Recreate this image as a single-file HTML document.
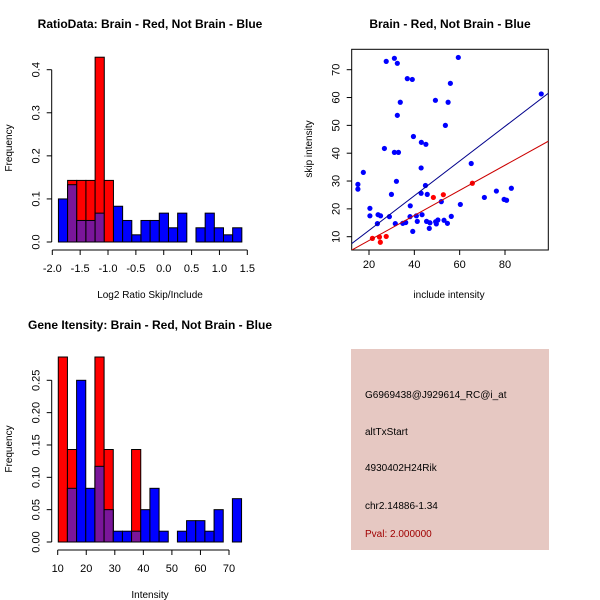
<!DOCTYPE html>
<html><head><meta charset="utf-8"><style>
html,body{margin:0;padding:0;background:#fff;}
svg{display:block;font-family:"Liberation Sans",Arial,sans-serif;}
</style></head><body>
<svg id="svg" width="600" height="600" viewBox="0 0 600 600" xmlns="http://www.w3.org/2000/svg"></svg>
<script>
// ===== Data =====
const ratioBinStart = -1.89;
const ratioBinWidth = 0.1646;
const ratioBlue = [0.1,0.133,0.05,0.05,0.067,0,0.083,0.05,0.0167,0.05,0.05,0.067,0.033,0.067,0,0.033,0.067,0.033,0.0167,0.033];
const ratioRed  = [0,0.143,0.143,0.143,0.429,0.143,0,0,0,0,0,0,0,0,0,0,0,0,0,0];
const ratioXTicks = [-2.0,-1.5,-1.0,-0.5,0.0,0.5,1.0,1.5];
const ratioXTickLabels = ["-2.0","-1.5","-1.0","-0.5","0.0","0.5","1.0","1.5"];
const ratioYTicks = [0,0.1,0.2,0.3,0.4];
const ratioYTickLabels = ["0.0","0.1","0.2","0.3","0.4"];
const blueX = [31.2,27.6,32.5,59.4,36.9,39.1,55.9,33.8,49.3,54.9,32.5,53.7,39.6,43.1,45.1,26.8,31.2,33,43,65.1,17.5,15.1,15.1,32.1,44.9,29.9,43,45.7,82.8,76.2,70.9,79.6,80.7,51.9,60.3,38.2,20.4,20.4,24,25.1,29,38.1,40.9,43.4,56.3,23.7,31.6,34.9,36.2,41.3,45.4,46.9,50.4,49.4,49.7,53.1,54.6,46.6,39.3,96];
const blueY = [74.1,73,72.3,74.4,66.8,66.5,65.1,58.3,59,58.3,53.6,50,46,43.9,43.2,41.7,40.3,40.3,34.7,36.3,33.1,28.8,27.1,29.9,28.4,25.2,25.6,25.2,27.4,26.4,24.1,23.4,23.1,22.6,21.6,21.1,20.2,17.5,17.9,17.5,17.2,17.2,17.5,17.9,17.3,14.7,14.7,14.8,15.1,15.5,15.5,15,16,15.4,14.6,15.9,14.8,13,11.9,61.3];
const redX = [21.5,24.6,25,27.6,48.4,52.8,65.6];
const redY = [9.4,9.9,8,10.1,24.1,25.1,29.2];
const blueFit = [0.623, -0.2];
const redFit = [0.451, -0.4];
const scatXTicks = [20,40,60,80];
const scatYTicks = [10,20,30,40,50,60,70];
const intBinStart = 10.2;
const intBinWidth = 3.21;
const intBlue = [0,0.083,0.25,0.083,0.117,0.05,0.0167,0.0167,0.0167,0.05,0.083,0.0167,0,0.0167,0.033,0.033,0.0167,0.05,0,0.067];
const intRed  = [0.286,0.143,0,0,0.286,0.143,0,0,0.143,0,0,0,0,0,0,0,0,0,0,0];
const intXTicks = [10,20,30,40,50,60,70];
const intYTicks = [0,0.05,0.1,0.15,0.2,0.25];
const intYTickLabels = ["0.00","0.05","0.10","0.15","0.20","0.25"];
const infoLines = ["G6969438@J929614_RC@i_at","altTxStart","4930402H24Rik","chr2.14886-1.34"];
const pvalText = "Pval: 2.000000";

const NS="http://www.w3.org/2000/svg";
const svg=document.getElementById('svg');
function mk(tag,attrs,parent){const e=document.createElementNS(NS,tag);for(const k in attrs)e.setAttribute(k,attrs[k]);(parent||svg).appendChild(e);return e;}
function txt(s,x,y,attrs,parent){const e=mk('text',Object.assign({x:x,y:y,'font-size':11,fill:'#000'},attrs||{}),parent);e.textContent=s;return e;}
function lin(d0,d1,r0,r1){return v=>r0+(v-d0)*(r1-r0)/(d1-d0);}

function histPanel(cfg){
  const g=mk('g',{});
  
  
  const X=cfg.X,Y=cfg.Y;
  const n=cfg.blue.length;
  for(let i=0;i<n;i++){
    const x0=X(cfg.start+i*cfg.width), x1=X(cfg.start+(i+1)*cfg.width);
    const b=cfg.blue[i], r=cfg.red[i];
    if(b>0){const e=mk('rect',{x:x0,y:Y(b),width:x1-x0,height:Y(0)-Y(b),fill:'#0000ff',stroke:'#000','stroke-width':1},g);
      
      }
    if(r>0){const e=mk('rect',{x:x0,y:Y(r),width:x1-x0,height:Y(0)-Y(r),fill:'#ff0000',stroke:'#000','stroke-width':1},g);
      
      }
    if(b>0&&r>0){const m=Math.min(b,r);const e=mk('rect',{x:x0,y:Y(m),width:x1-x0,height:Y(0)-Y(m),fill:'#7a169a',stroke:'#000','stroke-width':1},g);
      
      }
  }
  const yt=cfg.yTicks;
  mk('line',{x1:cfg.axX,x2:cfg.axX,y1:Y(yt[0]),y2:Y(yt[yt.length-1]),stroke:'#000'},g);
  yt.forEach((v,i)=>{mk('line',{x1:cfg.axX-5,x2:cfg.axX,y1:Y(v),y2:Y(v),stroke:'#000'},g);
    const t=txt(cfg.yLabels[i],0,0,{'text-anchor':'middle',transform:`translate(${cfg.axX-12},${Y(v)}) rotate(-90)`},g);
    
    });
  const xt=cfg.xTicks;
  mk('line',{x1:X(xt[0]),x2:X(xt[xt.length-1]),y1:cfg.axY,y2:cfg.axY,stroke:'#000'},g);
  xt.forEach((v,i)=>{mk('line',{x1:X(v),x2:X(v),y1:cfg.axY,y2:cfg.axY+5,stroke:'#000'},g);
    const t=txt(cfg.xLabels[i],X(v),cfg.axY+22,{'text-anchor':'middle'},g);
    
    });
  const tt=txt(cfg.title,cfg.titleX,cfg.titleY,{'text-anchor':'middle','font-weight':'bold','font-size':12},g);
  
  
  const xl=txt(cfg.xTitle,cfg.xTitleX,cfg.xTitleY,{'text-anchor':'middle','font-size':10},g);
  
  
  const yl=txt('Frequency',0,0,{'text-anchor':'middle','font-size':10,transform:`translate(12,${cfg.yTitleY}) rotate(-90)`},g);
  
  
}

histPanel({name:'ratio-histogram',X:lin(-2,1.5,52.3,247.3),Y:lin(0,0.4,242,69.7),start:ratioBinStart,width:ratioBinWidth,
  blue:ratioBlue,red:ratioRed,yTicks:ratioYTicks,yLabels:ratioYTickLabels,xTicks:ratioXTicks,xLabels:ratioXTickLabels,
  axX:51.7,axY:250,title:'RatioData: Brain - Red, Not Brain - Blue',titleX:150,titleY:28,
  xTitle:'Log2 Ratio Skip/Include',xTitleX:150,xTitleY:298,yTitleY:148});

histPanel({name:'intensity-histogram',X:lin(10,70,57.7,229),Y:lin(0,0.25,542,380.3),start:intBinStart,width:intBinWidth,
  blue:intBlue,red:intRed,yTicks:intYTicks,yLabels:intYTickLabels,xTicks:intXTicks,xLabels:intXTicks.map(String),
  axX:51.7,axY:550,title:'Gene Itensity: Brain - Red, Not Brain - Blue',titleX:150,titleY:329,
  xTitle:'Intensity',xTitleX:150,xTitleY:598,yTitleY:449});

(function(){
  const g=mk('g',{});
  
  
  const X=lin(20,80,369,505), Y=lin(10,70,236.7,69.7);
  const L=351.7,R=548.3,T=49.3,B=250;
  const xmin=12.37,xmax=99.1;
  mk('rect',{x:L,y:T,width:R-L,height:B-T,fill:'none',stroke:'#000'},g);
  const cp=mk('clipPath',{id:'cp'},g);mk('rect',{x:L,y:T,width:R-L,height:B-T},cp);
  blueX.forEach((x,i)=>{const c=mk('circle',{cx:X(x),cy:Y(blueY[i]),r:2.6,fill:'#0000ff'},g);
    
    });
  redX.forEach((x,i)=>{const c=mk('circle',{cx:X(x),cy:Y(redY[i]),r:2.6,fill:'#ff0000'},g);
    
    });
  const bl=mk('line',{x1:X(xmin),y1:Y(blueFit[0]*xmin+blueFit[1]),x2:X(xmax),y2:Y(blueFit[0]*xmax+blueFit[1]),stroke:'#00008b','stroke-width':1,'clip-path':'url(#cp)'},g);
  
  
  const rl=mk('line',{x1:X(xmin),y1:Y(redFit[0]*xmin+redFit[1]),x2:X(xmax),y2:Y(redFit[0]*xmax+redFit[1]),stroke:'#cc0000','stroke-width':1,'clip-path':'url(#cp)'},g);
  
  
  scatXTicks.forEach(v=>{mk('line',{x1:X(v),x2:X(v),y1:B,y2:B+5,stroke:'#000'},g);
    const t=txt(String(v),X(v),B+18,{'text-anchor':'middle'},g);
    
    });
  scatYTicks.forEach(v=>{mk('line',{x1:L-5,x2:L,y1:Y(v),y2:Y(v),stroke:'#000'},g);
    const t=txt(String(v),0,0,{'text-anchor':'middle',transform:`translate(${L-12},${Y(v)}) rotate(-90)`},g);
    
    });
  const tt=txt('Brain - Red, Not Brain - Blue',450,28,{'text-anchor':'middle','font-weight':'bold','font-size':12},g);
  
  
  const xl=txt('include intensity',449,298,{'text-anchor':'middle','font-size':10},g);
  
  
  const yl=txt('skip intensity',0,0,{'text-anchor':'middle','font-size':10,transform:`translate(312,149) rotate(-90)`},g);
  
  
})();

(function(){
  const g=mk('g',{});
  
  
  mk('rect',{x:351,y:349,width:198,height:201,fill:'#e6c8c2'},g);
  const ys=[398,435,471,509];
  infoLines.forEach((s,i)=>{const t=txt(s,365,ys[i],{'font-size':10},g);
    
    });
  const p=txt(pvalText,365,537,{'font-size':10,fill:'#a00000'},g);
  
  
})();
</script>
</body></html>
